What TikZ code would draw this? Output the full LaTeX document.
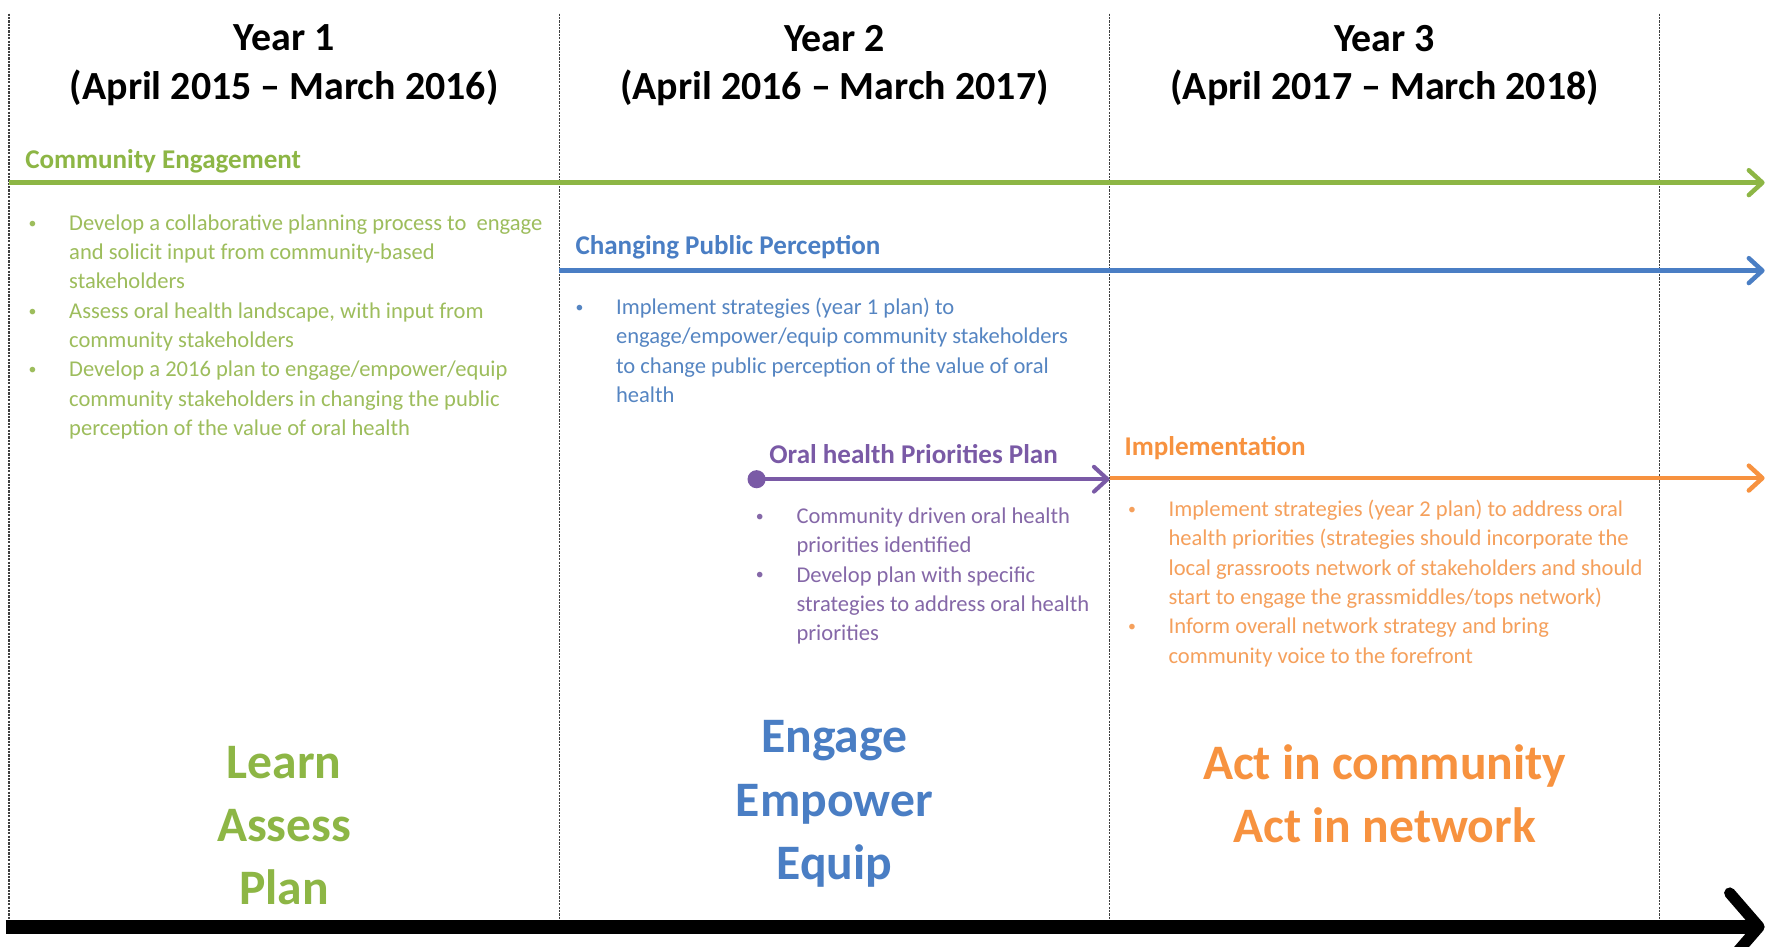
\documentclass[tikz,border=0pt]{standalone}
\usepackage{fontspec}
\setmainfont{Carlito}
\usetikzlibrary{arrows.meta}
\definecolor{engGreen}{HTML}{8DB645}
\definecolor{engGreenSoft}{HTML}{9DBD5C}
\definecolor{percBlue}{HTML}{4A7EC4}
\definecolor{percBlueSoft}{HTML}{5585C2}
\definecolor{prioPurple}{HTML}{7A5AA6}
\definecolor{prioPurpleSoft}{HTML}{8568A8}
\definecolor{implOrange}{HTML}{F7923F}
\definecolor{implOrangeSoft}{HTML}{F5A05C}
\newcommand{\bl}{\makebox[18pt][l]{\fontsize{7}{7}\selectfont\raisebox{1pt}{\textbullet}}}
\newcommand{\hg}{\hspace*{18pt}}

\begin{document}
\begin{tikzpicture}[x=0.5pt, y=-0.5pt,
    yearHead/.style={align=center, font=\fontsize{17.7}{21.5}\selectfont\bfseries, inner sep=0pt},
    trackTitle/.style={anchor=west, font=\fontsize{12}{14}\selectfont\bfseries, inner sep=0pt},
    bulletList/.style={anchor=north west, align=left, font=\fontsize{10}{13}\selectfont, inner sep=0pt},
    bigWords/.style={align=center, font=\fontsize{22}{28}\selectfont\bfseries, inner sep=0pt},
    yearSep/.style={draw=black!75, line width=0.55pt, dash pattern=on 1pt off 0.5pt},
    track/.style={line width=2pt, -{Straight Barb[length=6pt, width=11pt, round]}},
]
\useasboundingbox (0,0) rectangle (1568,839);
\fill[white] (0,0) rectangle (1568,839);

% year columns
\draw[yearSep] (8,12) -- (8,822);
\draw[yearSep] (496,12) -- (496,822);
\draw[yearSep] (984,12) -- (984,822);
\draw[yearSep] (1472,12) -- (1472,822);

\node[yearHead] (year1) at (252,58) {Year 1\\(April 2015 -- March 2016)};
\node[yearHead] (year2) at (740,58) {Year 2\\(April 2016 -- March 2017)};
\node[yearHead] (year3) at (1228,58) {Year 3\\(April 2017 -- March 2018)};

% tracks
\coordinate (engStart) at (8,162);
\coordinate (engEnd) at (1565,162);
\coordinate (percStart) at (496,240);
\coordinate (percEnd) at (1565,240);
\coordinate (prioStart) at (663,425);
\coordinate (prioEnd) at (984,425);
\coordinate (implStart) at (984,424);
\coordinate (implEnd) at (1565,424);

\node[trackTitle, text=engGreen] (engTitle) at (22,143) {Community Engagement};
\draw[track, engGreen] (engStart) -- (engEnd);
\node[bulletList, text=engGreenSoft] (engList) at (25,190) {%
\bl Develop a collaborative planning process to~ engage\\
\hg and solicit input from community-based\\
\hg stakeholders\\
\bl Assess oral health landscape, with input from\\
\hg community stakeholders\\
\bl Develop a 2016 plan to engage/empower/equip\\
\hg community stakeholders in changing the public\\
\hg perception of the value of oral health};

\node[trackTitle, text=percBlue] (percTitle) at (510,219) {Changing Public Perception};
\draw[track, percBlue] (percStart) -- (percEnd);
\node[bulletList, text=percBlueSoft] (percList) at (510,264) {%
\bl Implement strategies (year 1 plan) to\\
\hg engage/empower/equip community stakeholders\\
\hg to change public perception of the value of oral\\
\hg health};

\node[trackTitle, text=prioPurple] (prioTitle) at (682,403) {Oral health Priorities Plan};
\draw[track, line width=1.8pt, prioPurple, {Circle[length=8pt]}-{Straight Barb[length=6pt, width=11pt, round]}] (prioStart) -- (prioEnd);
\node[bulletList, text=prioPurpleSoft] (prioList) at (670,450) {%
\bl Community driven oral health\\
\hg priorities identified\\
\bl Develop plan with specific\\
\hg strategies to address oral health\\
\hg priorities};

\node[trackTitle, text=implOrange] (implTitle) at (997,397) {Implementation};
\draw[track, implOrange] (implStart) -- (implEnd);
\node[bulletList, text=implOrangeSoft] (implList) at (1000,443) {%
\bl Implement strategies (year 2 plan) to address oral\\
\hg health priorities (strategies should incorporate the\\
\hg local grassroots network of stakeholders and should\\
\hg start to engage the grassmiddles/tops network)\\
\bl Inform overall network strategy and bring\\
\hg community voice to the forefront};

% phase keywords
\node[bigWords, text=engGreen] (learnWords) at (252,732) {Learn\\Assess\\Plan};
\node[bigWords, text=percBlue] (engageWords) at (740,713) {Engage\\Empower\\Equip};
\node[bigWords, text=implOrange] (actWords) at (1228,704) {Act in community\\Act in network};

% time axis
\coordinate (axisStart) at (5,822);
\coordinate (axisEnd) at (1565,822);
\draw[line width=6pt, -{Straight Barb[length=13pt, width=30pt, line width=5pt, round]}] (axisStart) -- (axisEnd);
\end{tikzpicture}
\end{document}
